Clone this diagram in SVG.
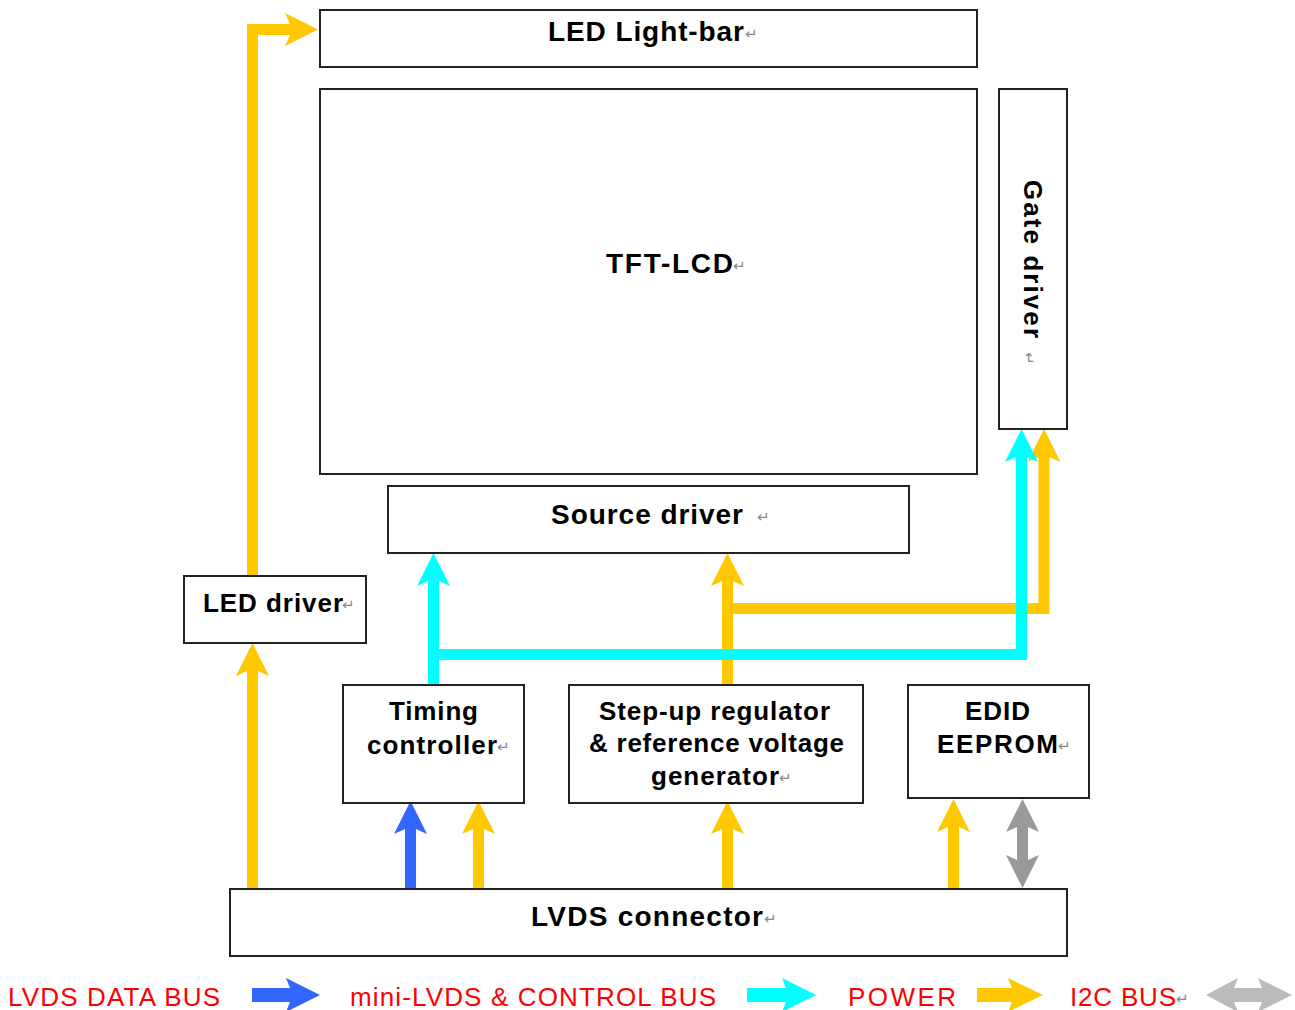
<svg xmlns="http://www.w3.org/2000/svg" width="1295" height="1010" viewBox="0 0 1295 1010">
<style>
.box{fill:#fff;stroke:#222;stroke-width:2}
.t{font-family:"Liberation Sans",Arial,sans-serif;font-weight:bold;font-size:26px;fill:#000}
.tl{font-size:28px}
.rt{font-family:"DejaVu Sans",sans-serif;font-size:15px;fill:#888}
.lg{font-family:"Liberation Sans",Arial,sans-serif;font-size:26px;fill:#ff0000}
.c{fill:none;stroke-width:11;stroke-linejoin:miter;stroke-linecap:butt}
.y{stroke:#ffc800}.cy{stroke:#00ffff}.b{stroke:#3366ff}.g{stroke:#999}
</style>
<defs>
<marker id="mY" markerUnits="userSpaceOnUse" overflow="visible" orient="auto" refX="0" refY="0" markerWidth="1" markerHeight="1"><path d="M27,0 L-6,-16.5 L-1,-5.5 L-1,5.5 L-6,16.5 Z" fill="#ffc800"/></marker>
<marker id="mC" markerUnits="userSpaceOnUse" overflow="visible" orient="auto" refX="0" refY="0" markerWidth="1" markerHeight="1"><path d="M27,0 L-6,-16.5 L-1,-5.5 L-1,5.5 L-6,16.5 Z" fill="#00ffff"/></marker>
<marker id="mB" markerUnits="userSpaceOnUse" overflow="visible" orient="auto" refX="0" refY="0" markerWidth="1" markerHeight="1"><path d="M27,0 L-6,-16.5 L-1,-5.5 L-1,5.5 L-6,16.5 Z" fill="#3366ff"/></marker>
<marker id="mG" markerUnits="userSpaceOnUse" overflow="visible" orient="auto-start-reverse" refX="0" refY="0" markerWidth="1" markerHeight="1"><path d="M27,0 L-6,-16.5 L-1,-5.5 L-1,5.5 L-6,16.5 Z" fill="#999"/></marker>
</defs>

<g id="connectors">
<path class="c y" d="M252.5 889 L252.5 670" marker-end="url(#mY)"/>
<path class="c y" d="M252.5 576 L252.5 29.5 L291 29.5" marker-end="url(#mY)"/>
<path class="c y" d="M727.5 685 L727.5 580" marker-end="url(#mY)"/>
<path class="c y" d="M727.5 608.5 L1044 608.5 L1044 456" marker-end="url(#mY)"/>
<path class="c cy" d="M433.5 685 L433.5 580" marker-end="url(#mC)"/>
<path class="c cy" d="M433.5 654.5 L1021.5 654.5 L1021.5 456" marker-end="url(#mC)"/>
<path class="c b" d="M410.5 889 L410.5 828" marker-end="url(#mB)"/>
<path class="c y" d="M478.5 889 L478.5 828" marker-end="url(#mY)"/>
<path class="c y" d="M727.5 889 L727.5 828" marker-end="url(#mY)"/>
<path class="c y" d="M953.5 889 L953.5 826" marker-end="url(#mY)"/>
<path class="c g" d="M1022.5 861 L1022.5 826" marker-start="url(#mG)" marker-end="url(#mG)"/>
</g>

<g id="lightbar"><rect class="box" x="320" y="10" width="657" height="57"/>
<text class="t tl" x="548" y="41" textLength="196" lengthAdjust="spacing">LED Light-bar</text><text class="rt" x="745" y="39">↵</text></g>

<g id="tftlcd"><rect class="box" x="320" y="89" width="657" height="385"/>
<text class="t tl" x="606" y="273" textLength="127" lengthAdjust="spacing">TFT-LCD</text><text class="rt" x="733" y="271">↵</text></g>

<g id="gatedriver"><rect class="box" x="999" y="89" width="68" height="340"/>
<text class="t" transform="translate(1024 180) rotate(90)" x="0" y="0" textLength="158" lengthAdjust="spacing">Gate driver</text>
<text class="rt" transform="translate(1024 352) rotate(90)" x="0" y="0">↵</text></g>

<g id="sourcedriver"><rect class="box" x="388" y="486" width="521" height="67"/>
<text class="t tl" x="551" y="524" textLength="192" lengthAdjust="spacing">Source driver</text><text class="rt" x="757" y="522">↵</text></g>

<g id="leddriver"><rect class="box" x="184" y="576" width="182" height="67"/>
<text class="t" x="203" y="612" textLength="140" lengthAdjust="spacing">LED driver</text><text class="rt" x="342" y="610">↵</text></g>

<g id="timing"><rect class="box" x="343" y="685" width="181" height="118"/>
<text class="t" x="389" y="720" textLength="89" lengthAdjust="spacing">Timing</text>
<text class="t" x="367" y="754" textLength="130" lengthAdjust="spacing">controller</text><text class="rt" x="497" y="752">↵</text></g>

<g id="stepup"><rect class="box" x="569" y="685" width="294" height="118"/>
<text class="t" x="599" y="720" textLength="231" lengthAdjust="spacing">Step-up regulator</text>
<text class="t" x="589" y="752" textLength="255" lengthAdjust="spacing">&amp; reference voltage</text>
<text class="t" x="651" y="785" textLength="128" lengthAdjust="spacing">generator</text><text class="rt" x="779" y="783">↵</text></g>

<g id="edid"><rect class="box" x="908" y="685" width="181" height="113"/>
<text class="t" x="965" y="720" textLength="65" lengthAdjust="spacing">EDID</text>
<text class="t" x="937" y="753" textLength="121" lengthAdjust="spacing">EEPROM</text><text class="rt" x="1058" y="751">↵</text></g>

<g id="lvds"><rect class="box" x="230" y="889" width="837" height="67"/>
<text class="t tl" x="531" y="926" textLength="232" lengthAdjust="spacing">LVDS connector</text><text class="rt" x="764" y="924">↵</text></g>

<g id="legend">
<text class="lg" x="8" y="1006" textLength="212" lengthAdjust="spacing">LVDS DATA BUS</text>
<polygon fill="#3366ff" points="252,988 290,988 286,978 320,995 286,1012 290,1002 252,1002"/>
<text class="lg" x="350" y="1006" textLength="366" lengthAdjust="spacing">mini-LVDS &amp; CONTROL BUS</text>
<polygon fill="#00ffff" points="747,988 786,988 782,978 816,995 782,1012 786,1002 747,1002"/>
<text class="lg" x="848" y="1006" textLength="108" lengthAdjust="spacing">POWER</text>
<polygon fill="#ffc800" points="977,988 1012,988 1008,978 1043,995 1008,1012 1012,1002 977,1002"/>
<text class="lg" x="1070" y="1006" textLength="106" lengthAdjust="spacing">I2C BUS</text><text class="rt" x="1176" y="1004">↵</text>
<polygon fill="#bbb" points="1206,995 1238,978 1234,988 1262,988 1258,978 1292,995 1258,1012 1262,1002 1234,1002 1238,1012"/>
</g>
</svg>
